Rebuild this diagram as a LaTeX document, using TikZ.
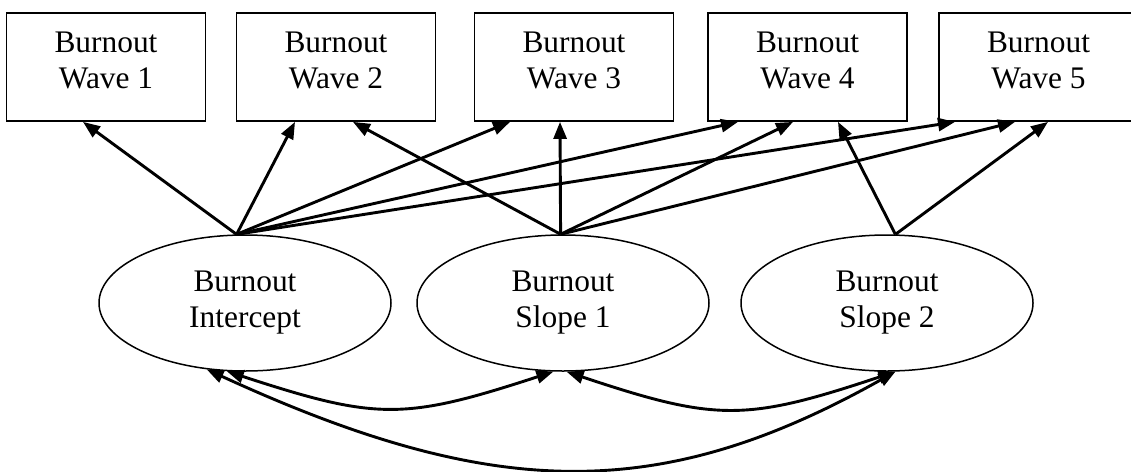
\documentclass[tikz,border=0pt]{standalone}
\usepackage{fontspec}
\setmainfont{Liberation Serif}
\usetikzlibrary{arrows.meta,shapes.geometric}
\begin{document}
\begin{tikzpicture}[x=1pt,y=-1pt,
  >={Triangle[length=17pt,width=13pt]},
  labelfont/.style={font=\fontsize{31.4}{36}\selectfont},
  wave/.style={draw,line width=1.8pt,minimum width=199pt,minimum height=108pt,
    inner sep=0pt,align=center,labelfont,text depth=12.8pt},
  latent/.style={draw,ellipse,line width=1.5pt,minimum width=292pt,
    minimum height=136pt,inner sep=0pt,align=center,labelfont},
  load/.style={->,line width=2.9pt},
  cov/.style={<->,line width=2.9pt}]
\useasboundingbox (0,0) rectangle (1131,471);

% observed burnout measures
\node[wave] (w1) at (106,67)    {Burnout\\Wave 1};
\node[wave] (w2) at (336,67)    {Burnout\\Wave 2};
\node[wave] (w3) at (574,67)    {Burnout\\Wave 3};
\node[wave] (w4) at (807.5,67)  {Burnout\\Wave 4};
\node[wave] (w5) at (1038.5,67) {Burnout\\Wave 5};

% latent growth factors
\node[latent] (int) at (245,303) {Burnout\\Intercept};
\node[latent] (s1)  at (563,303) {Burnout\\Slope 1};
\node[latent] (s2)  at (887,303) {Burnout\\Slope 2};

% intercept loadings
\draw[load] (int.97) -- ([xshift=-23pt]w1.south);
\draw[load] (int.97) -- ([xshift=-41pt]w2.south);
\draw[load] (int.97) -- ([xshift=-64pt]w3.south);
\draw[load] (int.97) -- ([xshift=-69.5pt]w4.south);
\draw[load] (int.97) -- ([xshift=-83.5pt]w5.south);

% first slope loadings
\draw[load] (s1.92) -- ([xshift=17pt]w2.south);
\draw[load] (s1.92) -- ([xshift=-14pt]w3.south);
\draw[load] (s1.92) -- ([xshift=-14.5pt]w4.south);
\draw[load] (s1.92) -- ([xshift=-23.5pt]w5.south);

% second slope loadings
\draw[load] (s2.83) -- ([xshift=30.5pt]w4.south);
\draw[load] (s2.83) -- ([xshift=9.5pt]w5.south);

% factor covariances
\draw[cov] (int.255) .. controls +(150,49) and +(-150,49) .. (s1.262);
\draw[cov] (s1.273) .. controls +(150,50) and +(-150,50) .. (s2.277);
\draw[cov] (int.240) .. controls +(287,132) and +(-235,132) .. (s2.277);
\end{tikzpicture}
\end{document}
